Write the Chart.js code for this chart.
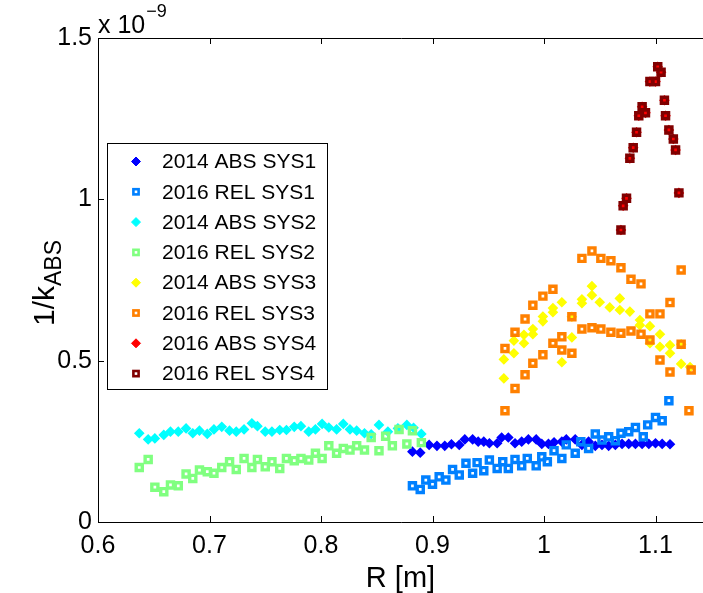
<!DOCTYPE html>
<html>
<head>
<meta charset="utf-8">
<script src="https://cdn.jsdelivr.net/npm/chart.js@4/dist/chart.umd.min.js"></script>
<style>
html, body { margin: 0; padding: 0; background: #fff; }
</style>
</head>
<body>
<canvas id="chart" width="703" height="593"></canvas>
<script>
// values, K in units of 1e-9
const abs14Sys1R = [0.882,0.889,0.897,0.904,0.911,0.917,0.924,0.929,0.936,0.941,0.946,0.951,0.958,0.962,0.968,0.974,0.980,0.986,0.993,0.998,1.004,1.009,1.016,1.020,1.028,1.034,1.040,1.046,1.052,1.058,1.064,1.070,1.076,1.082,1.088,1.094,1.100,1.106,1.113];
const abs14Sys1K = [0.218,0.215,0.239,0.236,0.236,0.241,0.239,0.256,0.256,0.249,0.249,0.244,0.244,0.262,0.262,0.244,0.249,0.256,0.256,0.242,0.242,0.247,0.249,0.256,0.256,0.239,0.249,0.236,0.239,0.236,0.239,0.242,0.242,0.242,0.242,0.242,0.244,0.242,0.241];

const rel16Sys1R = [0.882,0.889,0.894,0.900,0.906,0.912,0.918,0.924,0.930,0.936,0.940,0.946,0.951,0.958,0.963,0.968,0.974,0.980,0.985,0.993,0.998,1.003,1.009,1.016,1.020,1.028,1.033,1.040,1.046,1.052,1.058,1.064,1.069,1.076,1.082,1.089,1.093,1.100,1.106,1.112];
const rel16Sys1K = [0.112,0.101,0.130,0.117,0.140,0.130,0.163,0.146,0.182,0.151,0.184,0.159,0.192,0.166,0.187,0.166,0.194,0.174,0.197,0.174,0.202,0.187,0.221,0.197,0.239,0.213,0.249,0.228,0.273,0.254,0.264,0.252,0.275,0.280,0.293,0.264,0.301,0.324,0.314,0.376];

const abs14Sys2R = [0.637,0.645,0.651,0.659,0.665,0.672,0.679,0.685,0.691,0.698,0.704,0.711,0.718,0.724,0.731,0.738,0.743,0.750,0.756,0.763,0.769,0.776,0.782,0.789,0.795,0.801,0.807,0.814,0.820,0.826,0.832,0.839,0.845,0.852,0.860,0.869,0.877,0.883,0.890];
const abs14Sys2K = [0.275,0.256,0.259,0.270,0.280,0.280,0.290,0.275,0.283,0.273,0.287,0.295,0.283,0.280,0.287,0.306,0.297,0.280,0.280,0.285,0.285,0.295,0.297,0.280,0.287,0.304,0.293,0.287,0.304,0.287,0.283,0.275,0.272,0.301,0.280,0.290,0.301,0.292,0.273];

const rel16Sys2R = [0.637,0.645,0.651,0.659,0.665,0.672,0.679,0.685,0.691,0.698,0.704,0.711,0.718,0.724,0.731,0.738,0.743,0.750,0.756,0.763,0.769,0.776,0.782,0.789,0.795,0.801,0.807,0.814,0.820,0.826,0.832,0.839,0.845,0.852,0.858,0.864,0.870,0.877,0.882,0.890];
const rel16Sys2K = [0.169,0.194,0.108,0.094,0.115,0.112,0.149,0.135,0.161,0.156,0.151,0.169,0.187,0.163,0.197,0.169,0.194,0.171,0.187,0.166,0.197,0.190,0.197,0.192,0.213,0.197,0.236,0.213,0.228,0.223,0.236,0.223,0.262,0.221,0.266,0.236,0.287,0.242,0.283,0.246];

const abs14Sys3R = [0.964,0.964,0.973,0.973,0.982,0.982,0.990,0.990,0.999,0.999,1.008,1.008,1.016,1.016,1.025,1.025,1.034,1.034,1.043,1.043,1.050,1.059,1.068,1.068,1.077,1.086,1.086,1.095,1.095,1.104,1.104,1.113,1.113,1.123,1.123,1.131];
const abs14Sys3K = [0.445,0.504,0.523,0.562,0.554,0.580,0.598,0.582,0.637,0.622,0.663,0.650,0.681,0.495,0.572,0.636,0.690,0.678,0.731,0.703,0.681,0.665,0.693,0.657,0.652,0.626,0.610,0.607,0.554,0.582,0.543,0.548,0.523,0.551,0.490,0.480];

const rel16Sys3R = [0.965,0.974,0.983,0.990,0.999,1.008,1.034,1.043,1.051,1.060,1.069,1.078,1.087,1.095,1.104,1.113,1.123,0.965,0.974,0.983,0.990,0.999,1.008,1.016,1.016,1.025,1.025,1.034,1.043,1.051,1.060,1.069,1.078,1.087,1.095,1.104,1.113,1.123,1.132,1.130];
const rel16Sys3K = [0.538,0.588,0.629,0.672,0.700,0.721,0.817,0.840,0.817,0.810,0.788,0.752,0.738,0.645,0.645,0.680,0.781,0.345,0.414,0.456,0.492,0.518,0.554,0.574,0.533,0.636,0.523,0.598,0.602,0.598,0.588,0.585,0.592,0.582,0.564,0.502,0.465,0.551,0.471,0.345];

const abs16Sys4R = [1.102,1.105,1.095,1.100,1.108,1.088,1.091,1.085,1.109,1.083,1.112,1.116,1.080,1.118,1.077,1.074,1.071,1.121,1.069];
const abs16Sys4K = [1.411,1.394,1.365,1.365,1.307,1.287,1.268,1.259,1.259,1.208,1.215,1.187,1.160,1.153,1.127,1.003,0.980,1.020,0.905];

const rel16Sys4R = [1.102,1.105,1.095,1.100,1.108,1.088,1.091,1.085,1.109,1.083,1.112,1.116,1.080,1.118,1.077,1.074,1.071,1.121,1.069];
const rel16Sys4K = [1.411,1.394,1.365,1.365,1.307,1.287,1.268,1.259,1.259,1.208,1.215,1.187,1.160,1.153,1.127,1.003,0.980,1.020,0.905];

const seriesNames = ['2014 ABS SYS1','2016 REL SYS1','2014 ABS SYS2','2016 REL SYS2','2014 ABS SYS3','2016 REL SYS3','2016 ABS SYS4','2016 REL SYS4'];
const seriesColors = ['#0000ff','#0080ff','#00ffff','#80ff80','#ffff00','#ff8000','#ff0000','#800000'];
const xTicks = [0.6, 0.7, 0.8, 0.9, 1.0, 1.1];
const yTicks = [0, 0.5, 1, 1.5];

const FONT = "'Liberation Sans', Arial, Helvetica, sans-serif";

function pts(r, k) {
    return r.map((v, i) => ({ x: v, y: k[i] }));
}

const seriesData = [
    pts(abs14Sys1R, abs14Sys1K),
    pts(rel16Sys1R, rel16Sys1K),
    pts(abs14Sys2R, abs14Sys2K),
    pts(rel16Sys2R, rel16Sys2K),
    pts(abs14Sys3R, abs14Sys3K),
    pts(rel16Sys3R, rel16Sys3K),
    pts(abs16Sys4R, abs16Sys4K),
    pts(rel16Sys4R, rel16Sys4K)
];

let datasets = seriesData.map((d, i) => {
    let isSquare = i % 2 == 1;
    return {
        label: seriesNames[i],
        data: d,
        order: 7 - i, // later series on top, like matlab
        pointStyle: isSquare ? 'rect' : 'rectRot',
        pointRadius: isSquare ? 4.3 : 4.2,
        pointBorderWidth: isSquare ? 3.4 : 1.6,
        borderColor: seriesColors[i],
        backgroundColor: isSquare ? 'rgba(0,0,0,0)' : seriesColors[i],
        pointHoverRadius: 4
    };
});

// frame, inward ticks, titles, exponent and legend
const matlabAxes = {
    id: 'matlabAxes',
    afterDraw(chart) {
        let ctx = chart.ctx;
        let a = chart.chartArea;
        let xs = chart.scales.x;
        let ys = chart.scales.y;
        ctx.save();
        ctx.strokeStyle = '#000';
        ctx.lineWidth = 1;
        ctx.beginPath();
        ctx.moveTo(a.right + 2, a.top + 0.5);
        ctx.lineTo(a.left + 0.5, a.top + 0.5);
        ctx.lineTo(a.left + 0.5, a.bottom + 0.5);
        ctx.lineTo(a.right + 2, a.bottom + 0.5);
        for (let t of xTicks) {
            let px = Math.round(xs.getPixelForValue(t)) + 0.5;
            ctx.moveTo(px, a.bottom);
            ctx.lineTo(px, a.bottom - 6);
            ctx.moveTo(px, a.top);
            ctx.lineTo(px, a.top + 6);
        }
        for (let t of yTicks) {
            let py = Math.round(ys.getPixelForValue(t)) + 0.5;
            ctx.moveTo(a.left, py);
            ctx.lineTo(a.left + 6, py);
        }
        ctx.stroke();

        ctx.fillStyle = '#000';
        // exponent label
        ctx.textBaseline = 'alphabetic';
        ctx.textAlign = 'left';
        ctx.font = '25px ' + FONT;
        ctx.fillText('x 10', a.left, a.top - 5);
        let w10 = ctx.measureText('x 10').width;
        ctx.font = '18px ' + FONT;
        ctx.fillText('\u22129', a.left + w10 + 1, a.top - 21);

        // x title
        ctx.font = '29px ' + FONT;
        ctx.textAlign = 'center';
        ctx.fillText('R [m]', (a.left + a.right) / 2, 587);

        // y title with subscript
        ctx.save();
        ctx.translate(54, 283);
        ctx.rotate(-Math.PI / 2);
        ctx.textAlign = 'left';
        ctx.font = '30px ' + FONT;
        let w1 = ctx.measureText('1/k').width;
        ctx.font = '23px ' + FONT;
        let w2 = ctx.measureText('ABS').width;
        let x0 = -(w1 + w2) / 2;
        ctx.font = '30px ' + FONT;
        ctx.fillText('1/k', x0, 0);
        ctx.font = '23px ' + FONT;
        ctx.fillText('ABS', x0 + w1, 7);
        ctx.restore();

        // legend box
        let lx = 107.5, ly = 143.5, lw = 220, lh = 246;
        ctx.fillStyle = '#fff';
        ctx.fillRect(lx, ly, lw, lh);
        ctx.strokeStyle = '#000';
        ctx.lineWidth = 1;
        ctx.strokeRect(lx, ly, lw, lh);
        ctx.font = '21px ' + FONT;
        ctx.textAlign = 'left';
        ctx.textBaseline = 'middle';
        for (let i = 0; i < seriesNames.length; i++) {
            let cy = 161.5 + i * 30.3;
            let cx = 136;
            ctx.strokeStyle = seriesColors[i];
            ctx.fillStyle = seriesColors[i];
            if (i % 2 == 1) {
                ctx.lineWidth = 2.6;
                ctx.strokeRect(cx - 2.6, cy - 2.6, 5.2, 5.2);
            } else {
                ctx.lineWidth = 1;
                ctx.beginPath();
                ctx.moveTo(cx, cy - 4.5);
                ctx.lineTo(cx + 4.5, cy);
                ctx.lineTo(cx, cy + 4.5);
                ctx.lineTo(cx - 4.5, cy);
                ctx.closePath();
                ctx.fill();
                ctx.stroke();
            }
            ctx.fillStyle = '#000';
            ctx.fillText(seriesNames[i], 162, cy + 1);
        }
        ctx.restore();
    }
};

let chart = new Chart(document.getElementById('chart'), {
    type: 'scatter',
    data: { datasets: datasets },
    options: {
        responsive: false,
        devicePixelRatio: 1,
        animation: false,
        layout: { autoPadding: false, padding: { top: 38, right: 0, left: 0, bottom: 0 } },
        plugins: {
            legend: { display: false },
            tooltip: { enabled: false }
        },
        scales: {
            x: {
                type: 'linear',
                min: 0.6,
                max: 1.1426,
                border: { display: false },
                grid: { display: false, drawTicks: false },
                afterFit: s => { s.height = 71; s.paddingLeft = 0; s.paddingRight = 0; },
                afterBuildTicks: s => { s.ticks = xTicks.map(v => ({ value: v })); },
                ticks: {
                    padding: 9,
                    color: '#000',
                    font: { family: FONT, size: 25 },
                    callback: v => String(Math.round(v * 10) / 10)
                }
            },
            y: {
                type: 'linear',
                min: 0,
                max: 1.5,
                border: { display: false },
                grid: { display: false, drawTicks: false },
                afterFit: s => { s.width = 98; s.paddingTop = 0; s.paddingBottom = 0; },
                afterBuildTicks: s => { s.ticks = yTicks.map(v => ({ value: v })); },
                ticks: {
                    padding: 6,
                    color: '#000',
                    font: { family: FONT, size: 25 },
                    callback: v => String(v)
                }
            }
        }
    },
    plugins: [matlabAxes]
});
</script>
</body>
</html>
